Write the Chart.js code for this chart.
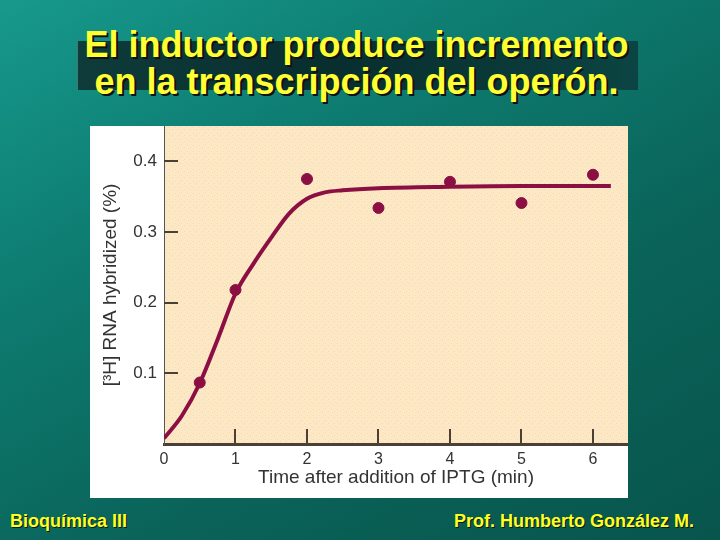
<!DOCTYPE html>
<html>
<head>
<meta charset="utf-8">
<script src="https://cdn.jsdelivr.net/npm/chart.js@4/dist/chart.umd.min.js"></script>
<style>
  html, body { margin: 0; padding: 0; }
  body {
    width: 720px; height: 540px; overflow: hidden; position: relative;
    background: linear-gradient(150deg, #17998c 0%, #0e7d72 30%, #0a6359 65%, #08554c 100%);
    font-family: "Liberation Sans", Arial, sans-serif;
  }
  .band {
    position: absolute; left: 77px; top: 41px; width: 560px; height: 49px;
    background: linear-gradient(to right, #0f3b3b 0%, #082e2e 45%, #0a3a39 80%, #0b4543 100%);
    border-left: 1px solid #3f7a76;
  }
  .title {
    position: absolute; left: 0; width: 713px; top: 26px;
    text-align: center; font-size: 36px; font-weight: bold; line-height: 37px;
    color: #ffff33; text-shadow: 2px 2px 0 #111;
  }
  .foot {
    position: absolute; top: 511px; font-size: 18px; font-weight: bold; line-height: 20px;
    color: #ffff22; text-shadow: 1px 1px 0 #0a1a18;
  }
  #panel {
    position: absolute; left: 90px; top: 126px; width: 538px; height: 372px; background: #fff;
  }
</style>
</head>
<body>
<div class="band"></div>
<div class="title">El inductor produce incremento<br>en la transcripción del operón.</div>
<div class="foot" style="left:10px">Bioquímica III</div>
<div class="foot" style="right:26px">Prof. Humberto González M.</div>
<div id="panel"><canvas id="iptgChart"></canvas></div>

<script>
// measured points: time after IPTG (min) vs [3H] RNA hybridized (%)
const timeMin = [0.5, 1, 2, 3, 4, 5, 6];
const rnaHybridized = [0.087, 0.218, 0.375, 0.334, 0.371, 0.341, 0.381];

// fitted curve
const fitTime = [0, 0.25, 0.5, 0.75, 1, 1.25, 1.5, 1.75, 2, 2.25, 2.5, 3, 4, 5, 6.25];
const fitValue = [0.008, 0.04, 0.086, 0.148, 0.213, 0.255, 0.292, 0.326, 0.347, 0.356, 0.359, 0.362, 0.364, 0.365, 0.365];

const xTicks = [0, 1, 2, 3, 4, 5, 6];
const yTicks = [0.1, 0.2, 0.3, 0.4];

const curveColor = '#8c0f44';
const axisInk = '#4a4036';

// stippled beige paper
function paperPattern(ctx) {
    const tile = document.createElement('canvas');
    tile.width = 6; tile.height = 6;
    const t = tile.getContext('2d');
    t.fillStyle = '#fde8c5';
    t.fillRect(0, 0, 6, 6);
    t.fillStyle = '#f5d8ad';
    t.fillRect(1, 1, 1, 1);
    t.fillRect(4, 3, 1, 1);
    t.fillStyle = '#f9e0ba';
    t.fillRect(2, 4, 1, 1);
    t.fillRect(5, 0, 1, 1);
    return ctx.createPattern(tile, 'repeat');
}

const plotBackground = {
    id: 'plotBackground',
    beforeDraw(chart) {
        const { ctx, chartArea: a } = chart;
        ctx.save();
        ctx.fillStyle = paperPattern(ctx);
        ctx.fillRect(a.left, a.top, a.right - a.left, a.bottom - a.top);
        ctx.restore();
    }
};

// tick marks point into the plot, as in the original figure
const inwardTicks = {
    id: 'inwardTicks',
    beforeDatasetsDraw(chart) {
        const { ctx, chartArea: a, scales } = chart;
        ctx.save();
        ctx.strokeStyle = axisInk;
        ctx.lineWidth = 2;
        ctx.beginPath();
        scales.y.ticks.forEach(t => {
            const py = Math.round(scales.y.getPixelForValue(t.value));
            ctx.moveTo(a.left, py);
            ctx.lineTo(a.left + 14, py);
        });
        scales.x.ticks.forEach(t => {
            if (t.value === 0) return;
            const px = Math.round(scales.x.getPixelForValue(t.value));
            ctx.moveTo(px, a.bottom);
            ctx.lineTo(px, a.bottom - 15);
        });
        ctx.stroke();
        ctx.restore();
    }
};

// fixed axis sizes so the plot fills the panel like the scanned figure
function noPadding(s) {
    s.paddingTop = 0; s.paddingBottom = 0;
    s.paddingLeft = 0; s.paddingRight = 0;
}

Chart.defaults.font.family = '"Liberation Sans", Arial, Helvetica, sans-serif';
Chart.defaults.color = '#333';

new Chart(document.getElementById('iptgChart'), {
    data: {
        datasets: [
            {
                type: 'line',
                label: 'fit',
                data: fitTime.map((t, i) => ({ x: t, y: fitValue[i] })),
                borderColor: curveColor,
                borderWidth: 4,
                pointRadius: 0,
                cubicInterpolationMode: 'monotone',
                fill: false
            },
            {
                type: 'scatter',
                label: 'measured',
                data: timeMin.map((t, i) => ({ x: t, y: rnaHybridized[i] })),
                backgroundColor: curveColor,
                borderColor: curveColor,
                pointRadius: 5.5
            }
        ]
    },
    options: {
        responsive: true,
        maintainAspectRatio: false,
        animation: false,
        layout: { padding: 0, autoPadding: false },
        plugins: {
            legend: { display: false },
            tooltip: { enabled: false }
        },
        scales: {
            x: {
                type: 'linear',
                min: 0,
                max: 6.49,
                afterBuildTicks: s => { s.ticks = xTicks.map(v => ({ value: v })); },
                afterFit: s => { s.height = 54; noPadding(s); },
                grid: { drawOnChartArea: false, drawTicks: false },
                border: { display: true, color: axisInk, width: 3 },
                ticks: { padding: 6, font: { size: 16 }, color: '#333', maxRotation: 0 },
                title: {
                    display: true,
                    text: 'Time after addition of IPTG (min)',
                    font: { size: 19 },
                    color: '#333',
                    padding: { top: 0, bottom: 9 }
                }
            },
            y: {
                type: 'linear',
                min: 0,
                max: 0.45,
                afterBuildTicks: s => { s.ticks = yTicks.map(v => ({ value: v })); },
                afterFit: s => { s.width = 74; noPadding(s); },
                grid: { drawOnChartArea: false, drawTicks: false },
                border: { display: true, color: '#555', width: 1 },
                ticks: { padding: 7, font: { size: 17 }, color: '#333', callback: v => v.toFixed(1) },
                title: {
                    display: true,
                    text: '[³H] RNA hybridized (%)',
                    font: { size: 19 },
                    color: '#333',
                    padding: { top: 9, bottom: 0 }
                }
            }
        }
    },
    plugins: [plotBackground, inwardTicks]
});
</script>
</body>
</html>
